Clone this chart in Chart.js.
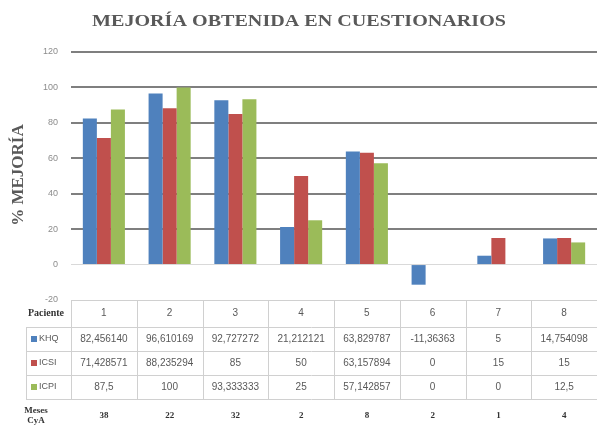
<!DOCTYPE html>
<html>
<head>
<meta charset="utf-8">
<script src="https://cdn.jsdelivr.net/npm/chart.js@4.4.0/dist/chart.umd.min.js"></script>
<style>
  html, body { margin: 0; padding: 0; background: #fff; }
  #wrap { width: 597px; height: 428px; }
</style>
</head>
<body>
<div id="wrap"><canvas id="chart" width="597" height="428"></canvas></div>
<script>
// data
const pacientes = ['1', '2', '3', '4', '5', '6', '7', '8'];
const khqText = ['82,456140', '96,610169', '92,727272', '21,212121', '63,829787', '-11,36363', '5', '14,754098'];
const icsiText = ['71,428571', '88,235294', '85', '50', '63,157894', '0', '15', '15'];
const icpiText = ['87,5', '100', '93,333333', '25', '57,142857', '0', '0', '12,5'];
const mesesCyA = ['38', '22', '32', '2', '8', '2', '1', '4'];
const yTicks = [-20, 0, 20, 40, 60, 80, 100, 120];

function toNum(s) {
    return parseFloat(s.replace(',', '.'));
}

const series = [
    { label: 'KHQ', text: khqText, color: '#4f81bd' },
    { label: 'ICSI', text: icsiText, color: '#c0504d' },
    { label: 'ICPI', text: icpiText, color: '#9bbb59' }
];

// Title, axis title and the data table under the plot
const tablePlugin = {
    id: 'tablePlugin',
    afterDraw(chart) {
        const ctx = chart.ctx;
        const area = chart.chartArea;
        const x = chart.scales.x;
        const colW = (area.right - area.left) / pacientes.length;
        const rows = [300, 327, 351, 375, 399];
        const legendLeft = 26;

        ctx.save();
        // title, a little wider than the plain font
        const title = 'MEJORÍA OBTENIDA EN CUESTIONARIOS';
        ctx.fillStyle = '#595959';
        ctx.font = 'bold 17px "Liberation Serif", serif';
        ctx.textAlign = 'center';
        ctx.textBaseline = 'middle';
        const sx = 414 / ctx.measureText(title).width;
        ctx.save();
        ctx.translate(299, 22);
        ctx.scale(sx, 1);
        ctx.fillText(title, 0, 0);
        ctx.restore();

        // y axis title
        ctx.save();
        ctx.translate(19, 175);
        ctx.rotate(-Math.PI / 2);
        ctx.font = 'bold 17px "Liberation Serif", serif';
        ctx.fillStyle = '#595959';
        ctx.fillText('% MEJORÍA', 0, 0);
        ctx.restore();

        // grid of the table
        ctx.strokeStyle = '#d0d0d0';
        ctx.lineWidth = 1;
        ctx.beginPath();
        ctx.moveTo(area.left, rows[0] + 0.5);
        ctx.lineTo(area.right, rows[0] + 0.5);
        for (let r = 1; r < rows.length; r++) {
            ctx.moveTo(legendLeft, rows[r] + 0.5);
            ctx.lineTo(area.right, rows[r] + 0.5);
        }
        ctx.moveTo(legendLeft + 0.5, rows[1]);
        ctx.lineTo(legendLeft + 0.5, rows[4]);
        for (let i = 0; i <= pacientes.length; i++) {
            const cx = Math.round(area.left + i * colW) + 0.5;
            ctx.moveTo(cx, rows[0]);
            ctx.lineTo(cx, rows[4]);
        }
        ctx.stroke();

        // header row
        ctx.fillStyle = '#333';
        ctx.font = 'bold 10px "Liberation Serif", serif';
        ctx.textAlign = 'center';
        ctx.fillText('Paciente', 46, (rows[0] + rows[1]) / 2);

        ctx.font = '10px "Liberation Sans", sans-serif';
        ctx.fillStyle = '#595959';
        pacientes.forEach((p, i) => {
            ctx.fillText(p, x.getPixelForValue(i), (rows[0] + rows[1]) / 2);
        });

        // series rows
        series.forEach((s, r) => {
            const cy = (rows[r + 1] + rows[r + 2]) / 2;
            ctx.fillStyle = s.color;
            ctx.fillRect(31, cy - 3, 6, 6);
            ctx.fillStyle = '#595959';
            ctx.textAlign = 'left';
            ctx.font = '9px "Liberation Sans", sans-serif';
            ctx.fillText(s.label, 39, cy);
            ctx.textAlign = 'center';
            ctx.font = '10px "Liberation Sans", sans-serif';
            s.text.forEach((t, i) => {
                ctx.fillText(t, x.getPixelForValue(i), cy);
            });
        });

        // meses CyA row
        ctx.fillStyle = '#333';
        ctx.font = 'bold 9px "Liberation Serif", serif';
        ctx.fillText('Meses', 36, 411);
        ctx.fillText('CyA', 36, 421);
        mesesCyA.forEach((m, i) => {
            ctx.fillText(m, x.getPixelForValue(i), 416);
        });
        ctx.restore();
    }
};

new Chart(document.getElementById('chart').getContext('2d'), {
    type: 'bar',
    data: {
        labels: pacientes,
        datasets: series.map(s => ({
            label: s.label,
            data: s.text.map(toNum),
            backgroundColor: s.color,
            borderWidth: 0,
            categoryPercentage: 0.64,
            barPercentage: 1
        }))
    },
    options: {
        responsive: false,
        animation: false,
        layout: {
            padding: { top: 52, bottom: 128, left: 0, right: 0 }
        },
        plugins: {
            legend: { display: false },
            title: { display: false },
            tooltip: { enabled: false }
        },
        scales: {
            x: {
                display: false
            },
            y: {
                min: yTicks[0],
                max: yTicks[yTicks.length - 1],
                afterBuildTicks(scale) {
                    scale.ticks = yTicks.map(v => ({ value: v }));
                },
                afterFit(scale) {
                    scale.width = 71;
                },
                border: { display: false },
                grid: {
                    drawTicks: false,
                    color: c => c.tick.value === 0 ? '#d9d9d9' : (c.tick.value < 0 ? 'rgba(0,0,0,0)' : '#7f7f7f'),
                    lineWidth: c => c.tick.value > 0 ? 2 : 1
                },
                ticks: {
                    padding: 13,
                    color: '#8c8c8c',
                    font: { family: '"Liberation Sans", sans-serif', size: 9 }
                }
            }
        }
    },
    plugins: [tablePlugin]
});
</script>
</body>
</html>
